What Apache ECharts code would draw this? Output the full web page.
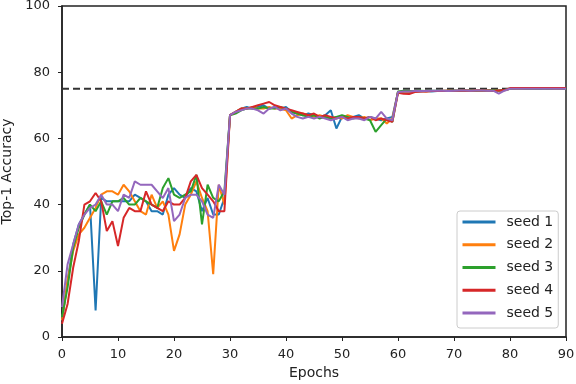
<!DOCTYPE html>
<html>
<head>
<meta charset="utf-8">
<script src="https://cdn.jsdelivr.net/npm/echarts@6/dist/echarts.min.js"></script>
<style>
  html, body { margin: 0; padding: 0; background: #fff; }
  #main { width: 576px; height: 384px; }
</style>
</head>
<body>
<div id="main"></div>
<script>
// values, one per epoch (0..90)
const seedNames = ['seed 1', 'seed 2', 'seed 3', 'seed 4', 'seed 5']
const seedColors = ['#1f77b4', '#ff7f0e', '#2ca02c', '#d62728', '#9467bd']

const seed1 = [5, 17, 28, 34, 37, 40, 8, 42, 41, 41, 41, 41, 41, 43, 42, 41, 38, 38, 37, 43, 45, 43, 42, 45, 44, 38, 42, 37, 37, 42,
  67, 68, 69, 69.5, 69, 69.5, 70, 69, 69.5, 69, 69.5, 68, 67.5, 67, 67.5, 67, 66.5, 67, 68.5, 63, 66.5, 66, 66.5, 67, 66, 66.5, 66, 65.5, 66, 66.5,
  74, 74, 74, 74.2, 74.2, 74.3, 74.2, 74.3, 74.4, 74.3, 74.4, 74.4, 74.5, 74.4, 74.5, 74.5, 74.4, 74.5, 74.4, 74.6, 75, 75, 75.1, 75, 75.1, 75, 75.1, 75.1, 75, 75.1, 75]
const seed2 = [5, 17, 26, 31, 33, 36, 39, 43, 44, 44, 43, 46, 44, 41, 38, 37, 43, 39, 41, 37, 26, 31, 40, 43, 47, 42, 38, 19, 46, 40,
  67, 68, 69, 69, 69.5, 69, 69, 69.5, 69, 69, 68.5, 66, 67, 67.5, 67, 66.5, 67, 66.5, 66, 66.5, 66, 67, 66.5, 66, 66.5, 65.5, 66, 66, 64.5, 66,
  74, 74.2, 74.1, 74.2, 74.3, 74.2, 74.3, 74.3, 74.4, 74.4, 74.3, 74.4, 74.5, 74.4, 74.5, 74.4, 74.5, 74.5, 74.4, 74.5, 75, 75.1, 75, 75.1, 75, 75.1, 75.1, 75, 75.1, 75, 75.1]
const seed3 = [6, 15, 27, 33, 37, 40, 38, 41, 37, 41, 41, 42, 40, 40, 42, 41, 40, 39, 45, 48, 43, 42, 43, 44, 49, 34, 46, 42, 41, 44,
  67, 67.5, 68.5, 69, 69, 69, 69.5, 69, 69, 69.5, 69, 68, 67.5, 67, 66.5, 67, 66, 66.5, 66, 66.5, 67, 66.5, 66, 66.5, 66, 65.5, 62, 64, 66, 65,
  74.2, 74.4, 74.3, 74.3, 74.4, 74.3, 74.4, 74.4, 74.3, 74.4, 74.5, 74.4, 74.5, 74.5, 74.4, 74.5, 74.5, 74.6, 74.5, 74.6, 75, 75.1, 75.1, 75, 75.1, 75, 75.1, 75, 75.1, 75.1, 75]
const seed4 = [4, 10, 21, 29, 40, 41, 43.5, 41, 32, 35, 27.5, 36, 39, 38, 38, 44, 40, 39, 38, 41, 40, 40, 42, 47, 49, 45, 43, 41, 38, 38,
  67, 68, 69, 69, 69.5, 70, 70.5, 71, 70, 69.5, 69, 68.5, 68, 67.5, 67, 67.5, 66.5, 67, 66.5, 66, 66.5, 66, 66.5, 66.5, 66, 66.5, 65.5, 66, 65.5, 65,
  73.8, 73.5, 73.4, 74, 74.2, 74.2, 74.3, 74.3, 74.3, 74.4, 74.4, 74.4, 74.5, 74.4, 74.5, 74.5, 74.5, 74.4, 74.5, 74.6, 75.2, 75.2, 75.2, 75.2, 75.2, 75.2, 75.2, 75.2, 75.2, 75.2, 75.2]
const seed5 = [9, 22, 28, 34, 37, 39, 40, 43, 40, 40, 38, 43, 42, 47, 46, 46, 46, 44, 42, 45, 35, 37, 42, 43, 43, 41, 37, 36, 46, 43,
  67, 68, 68.5, 69, 69, 68.5, 67.5, 69, 69.5, 68.5, 69, 67.5, 66.5, 66, 66.5, 66, 66.5, 66, 65.5, 66, 66.5, 65.5, 66, 66, 65.5, 66.5, 66, 68, 66, 65.5,
  74, 74.2, 74.2, 74.3, 74.3, 74.3, 74.4, 74.4, 74.4, 74.3, 74.4, 74.5, 74.5, 74.4, 74.5, 74.5, 74.4, 74.4, 73.5, 74.4, 75, 75, 75, 75, 75, 75, 75, 75, 75, 75, 75]

const targetAcc = 75   // dashed reference line
const xTicks = { min: 0, max: 90, interval: 10 }
const yTicks = { min: 0, max: 100, interval: 20 }

const allSeeds = [seed1, seed2, seed3, seed4, seed5]
const font = 'DejaVu Sans'

var myChart = echarts.init(document.getElementById('main'), null, { renderer: 'canvas' })

var series = []
// dashed target line first so the curves sit on top of it
series.push({
  name: 'target',
  type: 'line',
  data: [[xTicks.min, targetAcc], [xTicks.max, targetAcc]],
  symbol: 'none',
  silent: true,
  lineStyle: { color: '#333', width: 2, type: [7, 4] },
  z: 1
})
for (var i = 0; i < allSeeds.length; i++) {
  series.push({
    name: seedNames[i],
    type: 'line',
    data: allSeeds[i].map((v, ep) => [ep, v]),
    symbol: 'none',
    color: seedColors[i],
    lineStyle: { width: 2 },
    z: 2 + i
  })
}

const option = {
  animation: false,
  backgroundColor: '#fff',
  grid: {
    left: 62, right: 10, top: 6, bottom: 47,
    outerBoundsMode: 'none',
    show: true, borderColor: '#222', borderWidth: 1.5
  },
  legend: {
    data: seedNames,
    orient: 'vertical',
    left: 457, top: 211,
    padding: [4, 5, 8, 4],
    itemWidth: 33, itemHeight: 14, itemGap: 8.75,
    // only the line in the legend, no marker in the middle
    itemStyle: { opacity: 0 },
    lineStyle: { width: 3 },
    backgroundColor: 'rgba(255,255,255,0.8)',
    borderColor: '#ccc', borderWidth: 1, borderRadius: 3,
    textStyle: { fontFamily: font, fontSize: 14, color: '#222', padding: [0, 0, 0, 6] }
  },
  xAxis: {
    type: 'value',
    min: xTicks.min, max: xTicks.max, interval: xTicks.interval,
    name: 'Epochs', nameLocation: 'middle', nameGap: 28,
    nameTextStyle: { fontFamily: font, fontSize: 14, color: '#222' },
    axisLine: { lineStyle: { color: '#222', width: 1.5 } },
    axisTick: { length: 4, lineStyle: { color: '#222' } },
    axisLabel: { fontFamily: font, fontSize: 13, color: '#222', margin: 11 },
    splitLine: { show: false }
  },
  yAxis: {
    type: 'value',
    min: yTicks.min, max: yTicks.max, interval: yTicks.interval,
    name: 'Top-1 Accuracy', nameLocation: 'middle', nameGap: 47, nameRotate: 90,
    nameTextStyle: { fontFamily: font, fontSize: 14, color: '#222' },
    axisLine: { show: true, lineStyle: { color: '#222', width: 1.5 } },
    axisTick: { show: true, length: 4, lineStyle: { color: '#222' } },
    axisLabel: { fontFamily: font, fontSize: 13, color: '#222', margin: 12 },
    splitLine: { show: false }
  },
  series: series
}
myChart.setOption(option)
</script>
</body>
</html>
